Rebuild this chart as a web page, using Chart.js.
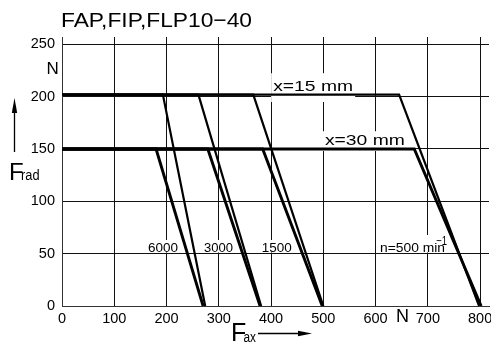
<!DOCTYPE html>
<html>
<head>
<meta charset="utf-8">
<script src="https://cdn.jsdelivr.net/npm/chart.js@4"></script>
<style>
  html, body { margin: 0; padding: 0; background: #fff; }
</style>
</head>
<body>
<canvas id="chart" width="491" height="345"></canvas>
<script>
// Axis ticks
const xTicks = [0, 100, 200, 300, 400, 500, 600, 700, 800];
const yTicks = [0, 50, 100, 150, 200, 250];

// Speed curves (N)
const speedLabels = ["6000", "3000", "1500", "n=500 min"];
const distLabels = ["x=15 mm", "x=30 mm"];
const radial15 = 202;
const knee15 = [193, 261, 366, 645];
const zero15 = [274, 381, 500, 798];
const radial30 = 150;
const knee30 = [180, 279, 384, 674];
const zero30 = [270, 379, 498, 802];

const FONT = '"Liberation Sans", Arial, sans-serif';

function curve(level, knee, zero) {
  return [{ x: 0, y: level }, { x: knee, y: level }, { x: zero, y: 0 }];
}

function fillFit(ctx, text, x, y, size, width) {
  ctx.font = size + "px " + FONT;
  const w = ctx.measureText(text).width;
  ctx.save();
  ctx.translate(x, y);
  if (width) ctx.scale(width / w, 1);
  ctx.fillText(text, 0, 0);
  ctx.restore();
}

const datasets = [];
knee15.forEach((k, i) => {
  datasets.push({ data: curve(radial15, k, zero15[i]), borderWidth: 2.2 });
});
knee30.forEach((k, i) => {
  datasets.push({ data: curve(radial30, k, zero30[i]), borderWidth: 2.9 });
});
datasets.forEach(d => {
  d.showLine = true;
  d.pointRadius = 0;
  d.borderColor = "#000";
  d.borderJoinStyle = "miter";
  d.tension = 0;
});

// Labels with white boxes behind them (in data units, baseline-left)
const notes = [
  { text: distLabels[0], x: 404, y: 205.4, size: 15, w: 80, padTop: 7, padBottom: 11 },
  { text: distLabels[1], x: 503, y: 153.8, size: 15, w: 80, padTop: 3, padBottom: 6 },
  { text: speedLabels[0], x: 164.5, y: 51.6, size: 12.5, w: 30, padTop: 3, padBottom: 0.5 },
  { text: speedLabels[1], x: 271.5, y: 51.6, size: 12.5, w: 29, padTop: 3, padBottom: 0.5 },
  { text: speedLabels[2], x: 382, y: 51.6, size: 12.5, w: 30, padTop: 3, padBottom: 0.5 },
  { text: speedLabels[3], x: 608.5, y: 51.6, size: 12.5, w: 65, padTop: 8, padBottom: 0.5 }
];

const notesPlugin = {
  id: "notes",
  beforeDatasetsDraw(chart) {
    const ctx = chart.ctx;
    const sx = chart.scales.x, sy = chart.scales.y;
    ctx.save();
    ctx.textBaseline = "alphabetic";
    ctx.textAlign = "left";
    notes.forEach(n => {
      const px = sx.getPixelForValue(n.x);
      const py = sy.getPixelForValue(n.y);
      const cap = n.size * 0.72;
      ctx.fillStyle = "#fff";
      ctx.fillRect(px - 2, py - cap - n.padTop, n.w + 4, cap + n.padTop + n.padBottom);
      ctx.fillStyle = "#000";
      fillFit(ctx, n.text, px, py, n.size, n.w);
    });
    // superscript of min^-1
    const last = notes[5];
    fillFit(ctx, "\u22121", sx.getPixelForValue(last.x) + 56, sy.getPixelForValue(last.y) - 7, 12.5, 11);
    ctx.restore();
  },
  afterDraw(chart) {
    const ctx = chart.ctx;
    ctx.save();
    ctx.fillStyle = "#000";
    ctx.strokeStyle = "#000";
    ctx.textBaseline = "alphabetic";
    ctx.textAlign = "left";
    // title
    fillFit(ctx, "FAP,FIP,FLP10\u221240", 61, 27, 21, 191);
    // units
    fillFit(ctx, "N", 46.5, 74, 17);
    fillFit(ctx, "N", 396, 322, 18);
    // F_rad with up arrow
    fillFit(ctx, "F", 9, 180, 24);
    fillFit(ctx, "rad", 21, 180, 14, 18.5);
    ctx.lineWidth = 1.3;
    ctx.beginPath();
    ctx.moveTo(14.5, 152);
    ctx.lineTo(14.5, 110);
    ctx.stroke();
    ctx.beginPath();
    ctx.moveTo(14.5, 98);
    ctx.lineTo(17.2, 113);
    ctx.lineTo(11.8, 113);
    ctx.closePath();
    ctx.fill();
    // F_ax with right arrow
    fillFit(ctx, "F", 231, 341, 25);
    fillFit(ctx, "ax", 243.5, 342, 14, 12.5);
    ctx.beginPath();
    ctx.moveTo(258, 333.5);
    ctx.lineTo(302, 333.5);
    ctx.stroke();
    ctx.beginPath();
    ctx.moveTo(312, 333.5);
    ctx.lineTo(298, 330.8);
    ctx.lineTo(298, 336.2);
    ctx.closePath();
    ctx.fill();
    ctx.restore();
  }
};

new Chart(document.getElementById("chart"), {
  type: "scatter",
  data: { datasets: datasets },
  options: {
    responsive: false,
    animation: false,
    devicePixelRatio: 1,
    layout: { padding: { top: 37, right: 2, left: 0, bottom: 0 } },
    plugins: { legend: { display: false }, tooltip: { enabled: false } },
    scales: {
      x: {
        type: "linear",
        min: 0,
        max: 817,
        afterBuildTicks: s => { s.ticks = xTicks.map(v => ({ value: v })); },
        afterFit: s => { s.height = 39; s.paddingLeft = 0; s.paddingRight = 0; },
        grid: { color: "#111", lineWidth: 1, drawTicks: false },
        border: { display: true, color: "#333", width: 1 },
        ticks: {
          padding: 4,
          maxRotation: 0,
          autoSkip: false,
          color: "#000",
          font: { family: FONT, size: 14.5 }
        }
      },
      y: {
        min: 0,
        max: 257,
        afterBuildTicks: s => { s.ticks = yTicks.map(v => ({ value: v })); },
        afterFit: s => { s.width = 62; s.paddingTop = 0; s.paddingBottom = 0; },
        grid: { color: "#111", lineWidth: 1, drawTicks: false },
        border: { display: true, color: "#333", width: 1 },
        ticks: {
          padding: 7,
          autoSkip: false,
          color: "#000",
          font: { family: FONT, size: 14.5 }
        }
      }
    }
  },
  plugins: [notesPlugin]
});
</script>
</body>
</html>
